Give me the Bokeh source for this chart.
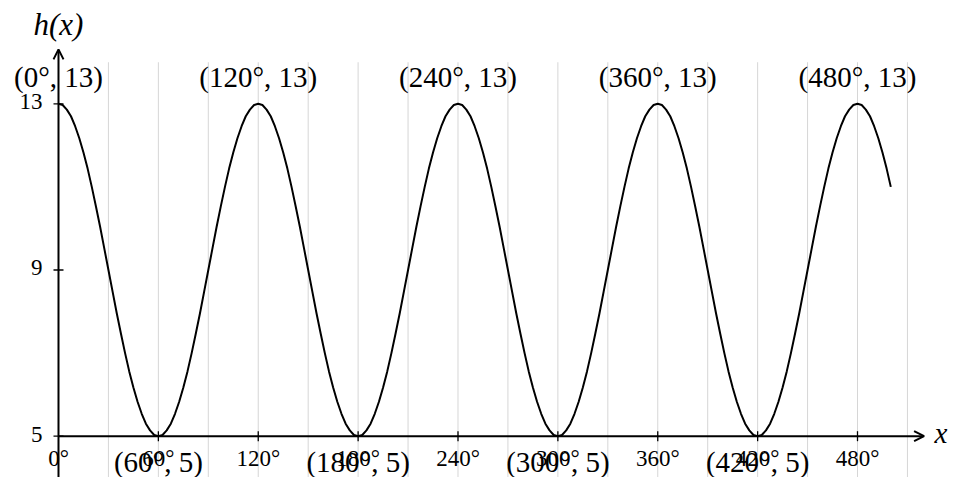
from bokeh.plotting import figure
from bokeh.models import Arrow, OpenHead, Range1d
from bokeh.core.properties import value
from bokeh.embed import file_html
from bokeh.resources import INLINE

# ---------------- data ----------------
curve_x = [0, 2.5, 5, 7.5, 10, 12.5, 15, 17.5, 20, 22.5, 25, 27.5,
           30, 32.5, 35, 37.5, 40, 42.5, 45, 47.5, 50, 52.5, 55, 57.5,
           60, 62.5, 65, 67.5, 70, 72.5, 75, 77.5, 80, 82.5, 85, 87.5,
           90, 92.5, 95, 97.5, 100, 102.5, 105, 107.5, 110, 112.5, 115, 117.5,
           120, 122.5, 125, 127.5, 130, 132.5, 135, 137.5, 140, 142.5, 145, 147.5,
           150, 152.5, 155, 157.5, 160, 162.5, 165, 167.5, 170, 172.5, 175, 177.5,
           180, 182.5, 185, 187.5, 190, 192.5, 195, 197.5, 200, 202.5, 205, 207.5,
           210, 212.5, 215, 217.5, 220, 222.5, 225, 227.5, 230, 232.5, 235, 237.5,
           240, 242.5, 245, 247.5, 250, 252.5, 255, 257.5, 260, 262.5, 265, 267.5,
           270, 272.5, 275, 277.5, 280, 282.5, 285, 287.5, 290, 292.5, 295, 297.5,
           300, 302.5, 305, 307.5, 310, 312.5, 315, 317.5, 320, 322.5, 325, 327.5,
           330, 332.5, 335, 337.5, 340, 342.5, 345, 347.5, 350, 352.5, 355, 357.5,
           360, 362.5, 365, 367.5, 370, 372.5, 375, 377.5, 380, 382.5, 385, 387.5,
           390, 392.5, 395, 397.5, 400, 402.5, 405, 407.5, 410, 412.5, 415, 417.5,
           420, 422.5, 425, 427.5, 430, 432.5, 435, 437.5, 440, 442.5, 445, 447.5,
           450, 452.5, 455, 457.5, 460, 462.5, 465, 467.5, 470, 472.5, 475, 477.5,
           480, 482.5, 485, 487.5, 490, 492.5, 495, 497.5, 500]
curve_h = [13.00, 12.97, 12.86, 12.70, 12.46, 12.17, 11.83, 11.44, 11.00, 10.53, 10.04, 9.52,
           9.00, 8.48, 7.96, 7.47, 7.00, 6.56, 6.17, 5.83, 5.54, 5.30, 5.14, 5.03,
           5.00, 5.03, 5.14, 5.30, 5.54, 5.83, 6.17, 6.56, 7.00, 7.47, 7.96, 8.48,
           9.00, 9.52, 10.04, 10.53, 11.00, 11.44, 11.83, 12.17, 12.46, 12.70, 12.86, 12.97,
           13.00, 12.97, 12.86, 12.70, 12.46, 12.17, 11.83, 11.44, 11.00, 10.53, 10.04, 9.52,
           9.00, 8.48, 7.96, 7.47, 7.00, 6.56, 6.17, 5.83, 5.54, 5.30, 5.14, 5.03,
           5.00, 5.03, 5.14, 5.30, 5.54, 5.83, 6.17, 6.56, 7.00, 7.47, 7.96, 8.48,
           9.00, 9.52, 10.04, 10.53, 11.00, 11.44, 11.83, 12.17, 12.46, 12.70, 12.86, 12.97,
           13.00, 12.97, 12.86, 12.70, 12.46, 12.17, 11.83, 11.44, 11.00, 10.53, 10.04, 9.52,
           9.00, 8.48, 7.96, 7.47, 7.00, 6.56, 6.17, 5.83, 5.54, 5.30, 5.14, 5.03,
           5.00, 5.03, 5.14, 5.30, 5.54, 5.83, 6.17, 6.56, 7.00, 7.47, 7.96, 8.48,
           9.00, 9.52, 10.04, 10.53, 11.00, 11.44, 11.83, 12.17, 12.46, 12.70, 12.86, 12.97,
           13.00, 12.97, 12.86, 12.70, 12.46, 12.17, 11.83, 11.44, 11.00, 10.53, 10.04, 9.52,
           9.00, 8.48, 7.96, 7.47, 7.00, 6.56, 6.17, 5.83, 5.54, 5.30, 5.14, 5.03,
           5.00, 5.03, 5.14, 5.30, 5.54, 5.83, 6.17, 6.56, 7.00, 7.47, 7.96, 8.48,
           9.00, 9.52, 10.04, 10.53, 11.00, 11.44, 11.83, 12.17, 12.46, 12.70, 12.86, 12.97,
           13.00, 12.97, 12.86, 12.70, 12.46, 12.17, 11.83, 11.44, 11.00]

peak_x = [0, 120, 240, 360, 480]
peak_y = [13, 13, 13, 13, 13]
trough_x = [60, 180, 300, 420]
trough_y = [5, 5, 5, 5]

x_ticks = [0, 60, 120, 180, 240, 300, 360, 420, 480]
x_tick_labels = ["0°", "60°", "120°", "180°", "240°", "300°", "360°", "420°", "480°"]
y_ticks = [5, 9, 13]
y_tick_labels = ["5", "9", "13"]
grid_x = [30, 60, 90, 120, 150, 180, 210, 240, 270, 300, 330, 360, 390, 420, 450, 480, 510]

x_axis_label = "x"
y_axis_label = "h(x)"

# ---------------- styling ----------------
FONT = value("Liberation Serif")
PXU = 41.55      # pixels per y unit
PXD = 1.6646     # pixels per degree
X0 = 5           # y where the x axis sits
SHIFT = 9        # text baseline correction, px
X_MIN, X_MAX = -34.84, 537.67
Y_MIN, Y_MAX = 4.006, 15.486

p = figure(width=953, height=477, x_range=Range1d(X_MIN, X_MAX), y_range=Range1d(Y_MIN, Y_MAX),
           output_backend="svg", toolbar_location=None, min_border=0,
           x_axis_location=None, y_axis_location=None)
p.grid.visible = False
p.outline_line_color = None
p.background_fill_color = "white"

# vertical grid lines
p.segment(x0=grid_x, y0=[Y_MIN - 1] * len(grid_x), x1=grid_x, y1=[14.0] * len(grid_x),
          line_color="#d6d6d6", line_width=1)

# curve
p.line(curve_x, curve_h, line_color="black", line_width=2, line_join="round")

# axes with arrows
p.add_layout(Arrow(end=OpenHead(size=10, line_width=2, line_color="black"),
                   x_start=0, y_start=X0, x_end=520, y_end=X0,
                   line_width=2, line_color="black"))
p.add_layout(Arrow(end=OpenHead(size=10, line_width=2, line_color="black"),
                   x_start=0, y_start=Y_MIN - 1, x_end=0, y_end=14.31,
                   line_width=2, line_color="black"))

# tick marks
tx = x_ticks[1:]
p.segment(x0=tx, y0=[X0 - 5 / PXU] * len(tx), x1=tx, y1=[X0 + 5 / PXU] * len(tx),
          line_color="black", line_width=1.3)
p.segment(x0=[-5 / PXD] * len(y_ticks), y0=y_ticks, x1=[5 / PXD] * len(y_ticks), y1=y_ticks,
          line_color="black", line_width=1.3)

# tick labels
p.text(x=x_ticks, y=[X0 - (31.3 - SHIFT) / PXU] * len(x_ticks), text=x_tick_labels,
       text_font=FONT, text_font_size=value("23px"), text_align="center",
       text_baseline="alphabetic", text_color="black")
p.text(x=[-16 / PXD] * len(y_ticks), y=[v - (7 - SHIFT) / PXU for v in y_ticks], text=y_tick_labels,
       text_font=FONT, text_font_size=value("23px"), text_align="right",
       text_baseline="alphabetic", text_color="black")

# point annotations
peak_labels = [f"({x}°, {y})" for x, y in zip(peak_x, peak_y)]
p.text(x=peak_x, y=[v + (17.3 + SHIFT) / PXU for v in peak_y], text=peak_labels,
       text_font=FONT, text_font_size=value("29px"), text_align="center",
       text_baseline="alphabetic", text_color="black")
trough_labels = [f"({x}°, {y})" for x, y in zip(trough_x, trough_y)]
p.text(x=trough_x, y=[v - (35.3 - SHIFT) / PXU for v in trough_y], text=trough_labels,
       text_font=FONT, text_font_size=value("29px"), text_align="center",
       text_baseline="alphabetic", text_color="black")

# axis labels
p.text(x=[0], y=[14.74 + (SHIFT - 2) / PXU], text=[y_axis_label], text_font=FONT, text_font_size=value("31px"),
       text_font_style="italic", text_align="center", text_baseline="alphabetic", text_color="black")
p.text(x=[526.3], y=[X0 - (6.3 - SHIFT) / PXU], text=[x_axis_label], text_font=FONT,
       text_font_size=value("29px"), text_font_style="italic", text_align="left",
       text_baseline="alphabetic", text_color="black")

open("out.html", "w").write(file_html(p, INLINE))
